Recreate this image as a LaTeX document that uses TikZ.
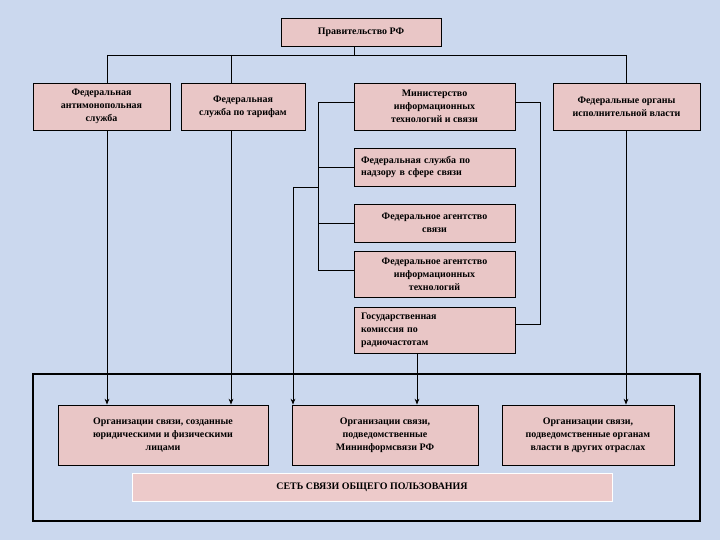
\documentclass[tikz,border=0pt]{standalone}
\usepackage{fontspec}
\setmainfont{Liberation Serif}
\usetikzlibrary{arrows.meta}
\definecolor{bgc}{HTML}{CBD8EE}
\definecolor{boxc}{HTML}{E9C6C6}
\definecolor{netc}{HTML}{EDCACA}
\tikzset{
  bx/.style={draw=black, line width=0.7pt, fill=boxc, inner sep=1pt, align=center,
    font=\fontsize{8.5}{11}\selectfont\bfseries},
  ln/.style={line width=0.7pt},
  ar/.style={line width=0.8pt, -{Stealth[length=5pt,width=4pt]}},
}
\newcommand{\bxat}[6]{% name, x1, y1, x2, y2, text
  \node[bx, minimum width={(#4-#2)*0.03cm}, minimum height={(#5-#3)*0.03cm}]
    (#1) at ({(#2+#4)/2},{(#3+#5)/2}) {#6};}
\begin{document}
\begin{tikzpicture}[x=0.03cm,y=-0.03cm]
\fill[bgc] (0,0) rectangle (720,540);
\useasboundingbox (0,0) rectangle (720,540);
\bxat{gov}{281}{18}{441}{46}{Правительство РФ}
\bxat{fas}{33}{83}{170}{130}{Федеральная\\антимонопольная\\служба}
\bxat{fst}{181}{83}{305}{130}{Федеральная\\служба по тарифам}
\bxat{min}{354}{83}{515}{130}{Министерство\\информационных\\технологий и связи}
\bxat{foiv}{553}{83}{700}{130}{Федеральные органы\\исполнительной власти}
\node[bx, minimum width={161*0.03cm}, minimum height={38*0.03cm}, text width={161*0.03cm-12pt}, align=left] (nadz) at (434.5,167) {Федеральная служба по\\надзору в сфере связи};
\bxat{ags}{354}{204}{515}{242}{Федеральное агентство\\связи}
\bxat{agit}{354}{251}{515}{297}{Федеральное агентство\\информационных\\технологий}
\node[bx, minimum width={161*0.03cm}, minimum height={46*0.03cm}, text width={161*0.03cm-12pt}, align=left] (gkrch) at (434.5,330) {Государственная\\комиссия по\\радиочастотам};
% frame
\draw[line width=2.5pt] (33,374) rectangle (700,521);
\bxat{org1}{58}{405}{268}{465}{Организации связи, созданные\\юридическими и физическими\\лицами}
\bxat{org2}{292}{405}{478}{465}{Организации связи,\\подведомственные\\Мининформсвязи РФ}
\bxat{org3}{502}{405}{674}{465}{Организации связи,\\подведомственные органам\\власти в других отраслах}
\node[draw=white, line width=0.8pt, fill=netc, minimum width={480*0.03cm}, minimum height={28*0.03cm}, font=\fontsize{8.5}{10}\selectfont\bfseries] (net) at (372,487) {СЕТЬ СВЯЗИ ОБЩЕГО ПОЛЬЗОВАНИЯ};
% top bus
\coordinate (busL) at (107,55);
\coordinate (busR) at (626,55);
\draw[ln] (gov.south -| 354,0) -- (354,55);
\draw[ln] (busL) -- (busR);
\draw[ln] (busL) -- (fas.north -| busL);
\draw[ln] (231,55) -- (fst.north -| 231,0);
\draw[ln] (busR) -- (foiv.north -| busR);
% ministry left tree
\coordinate (tl) at (318,102);
\draw[ln] (min.west |- tl) -- (tl) -- (318,270) -- (agit.west |- 0,270);
\draw[ln] (318,167) -- (nadz.west);
\draw[ln] (318,223) -- (ags.west);
\draw[ln] (318,187) -- (293,187);
% ministry right
\draw[ln] (min.east |- tl) -- (540,102) -- (540,324) -- (gkrch.east |- 0,324);
% arrows
\draw[ar] (fas.south -| 107,0) -- (org1.north -| 107,0);
\draw[ar] (fst.south -| 231,0) -- (org1.north -| 231,0);
\draw[ar] (293,187) -- (org2.north -| 293,0);
\draw[ar] (gkrch.south -| 417,0) -- (org2.north -| 417,0);
\draw[ar] (foiv.south -| 626,0) -- (org3.north -| 626,0);
\end{tikzpicture}
\end{document}
